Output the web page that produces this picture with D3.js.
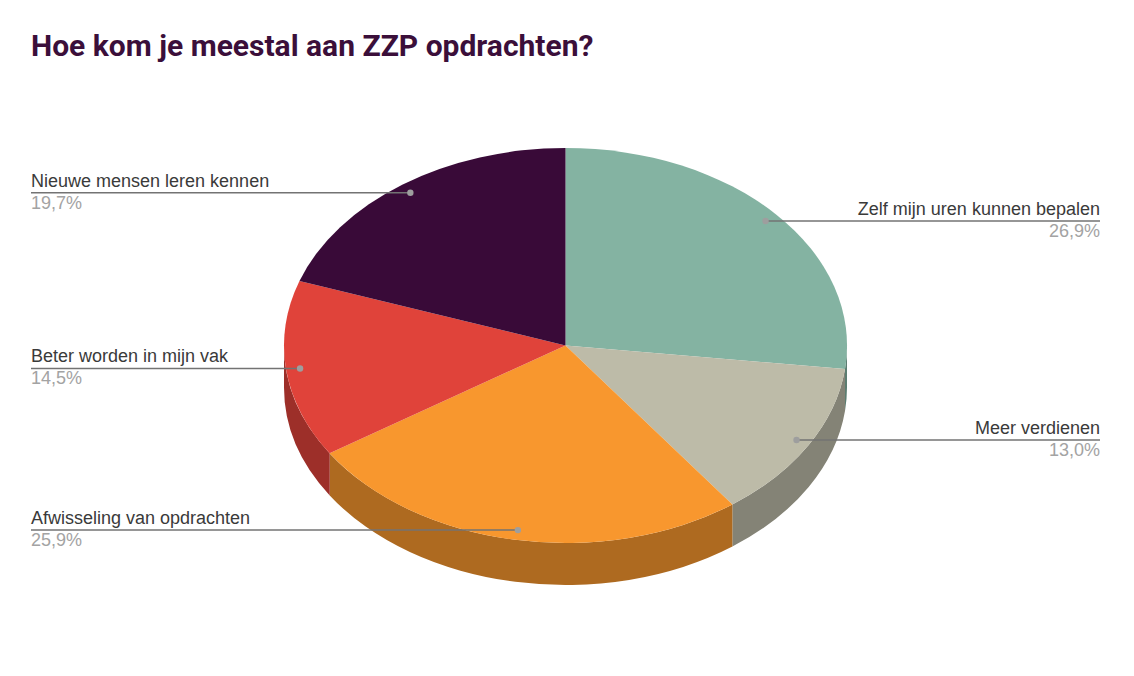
<!DOCTYPE html>
<html>
<head>
<meta charset="utf-8">
<title>Hoe kom je meestal aan ZZP opdrachten?</title>
<script src="https://cdnjs.cloudflare.com/ajax/libs/d3/7.8.5/d3.min.js"></script>
<style>
    html, body { margin: 0; padding: 0; background: #fff; overflow: hidden; }
    svg { display: block; }
    .title { font: bold 30px Roboto, sans-serif; fill: #3b0f3a; }
    .label { font: 18px "Liberation Sans", Arial, sans-serif; fill: #3a3a3a; }
    .percent { font: 18px "Liberation Sans", Arial, sans-serif; fill: #a3a3a3; }
</style>
</head>
<body>
<div id="chart"></div>
<script>
"use strict"

const title = "Hoe kom je meestal aan ZZP opdrachten?"
const categories = [
    "Zelf mijn uren kunnen bepalen",
    "Meer verdienen",
    "Afwisseling van opdrachten",
    "Beter worden in mijn vak",
    "Nieuwe mensen leren kennen"
]
const values = [26.9, 13.0, 25.9, 14.5, 19.7]
const colors = ["#84b3a2", "#bdbba8", "#f8972e", "#e0433a", "#390a38"]

const size = { width: 1134, height: 676 }
const pieBox = { cx: 565.5, cy: 345.5, rx: 281.5, ry: 197.5, depth: 42 }
const labelBox = { left: 31, right: 1100 }

const nl = d3.formatLocale({ decimal: ",", thousands: ".", grouping: [3], currency: ["€", ""] })
const fmtPct = v => nl.format(".1f")(v) + "%"

// side walls are the slice colour, multiplied down
const shade = c => {
    const rgb = d3.rgb(c)
    return d3.rgb(rgb.r * 0.7, rgb.g * 0.7, rgb.b * 0.7).formatHex()
}

// unit circle -> flattened ellipse, angle 0 at the top, going clockwise
const px = (a, r = 1) => pieBox.cx + pieBox.rx * r * Math.sin(a)
const py = (a, r = 1) => pieBox.cy - pieBox.ry * r * Math.cos(a)

const slices = d3.pie().sort(null)(values)
const arc = d3.arc().innerRadius(0).outerRadius(1)

const svg = d3.select("#chart")
    .append("svg")
    .attr("width", size.width)
    .attr("height", size.height)
    .attr("viewBox", `0 0 ${size.width} ${size.height}`)

svg.append("text")
    .attr("class", "title")
    .attr("x", 31)
    .attr("y", 56)
    .text(title)

/**
 * Outline of the part of a slice's rim that faces the viewer.
 * @param {Object} d - Slice from d3.pie.
 * @returns {?string} Path data, null if the rim is hidden.
 */
function wallPath(d) {
    const a0 = Math.max(d.startAngle, Math.PI / 2)
    const a1 = Math.min(d.endAngle, Math.PI * 1.5)
    if (a0 >= a1) { return null }
    const { rx, ry, depth } = pieBox
    return `M${px(a0)},${py(a0)}`
        + `A${rx},${ry} 0 0 1 ${px(a1)},${py(a1)}`
        + `L${px(a1)},${py(a1) + depth}`
        + `A${rx},${ry} 0 0 0 ${px(a0)},${py(a0) + depth}Z`
}

svg.append("g")
    .selectAll("path")
    .data(slices.filter(d => wallPath(d)))
    .enter()
    .append("path")
    .attr("d", wallPath)
    .attr("fill", d => shade(colors[d.index]))

svg.append("g")
    .attr("transform", `translate(${pieBox.cx},${pieBox.cy}) scale(${pieBox.rx},${pieBox.ry})`)
    .selectAll("path")
    .data(slices)
    .enter()
    .append("path")
    .attr("d", arc)
    .attr("fill", d => colors[d.index])

// leaders and labels
const midAngle = d => (d.startAngle + d.endAngle) / 2
const isRight = d => midAngle(d) < Math.PI

const labels = svg.append("g")
    .selectAll("g")
    .data(slices)
    .enter()
    .append("g")

labels.append("line")
    .attr("x1", d => px(midAngle(d), 0.95))
    .attr("x2", d => isRight(d) ? labelBox.right : labelBox.left)
    .attr("y1", d => py(midAngle(d), 0.95))
    .attr("y2", d => py(midAngle(d), 0.95))
    .attr("stroke", "#737373")
    .attr("stroke-width", 1.5)

labels.append("circle")
    .attr("cx", d => px(midAngle(d), 0.95))
    .attr("cy", d => py(midAngle(d), 0.95))
    .attr("r", 3.2)
    .attr("fill", "#9e9e9e")

labels.append("text")
    .attr("class", "label")
    .attr("x", d => isRight(d) ? labelBox.right : labelBox.left)
    .attr("y", d => py(midAngle(d), 0.95) - 6)
    .attr("text-anchor", d => isRight(d) ? "end" : "start")
    .text(d => categories[d.index])

labels.append("text")
    .attr("class", "percent")
    .attr("x", d => isRight(d) ? labelBox.right : labelBox.left)
    .attr("y", d => py(midAngle(d), 0.95) + 16)
    .attr("text-anchor", d => isRight(d) ? "end" : "start")
    .text(d => fmtPct(d.value))
</script>
</body>
</html>
